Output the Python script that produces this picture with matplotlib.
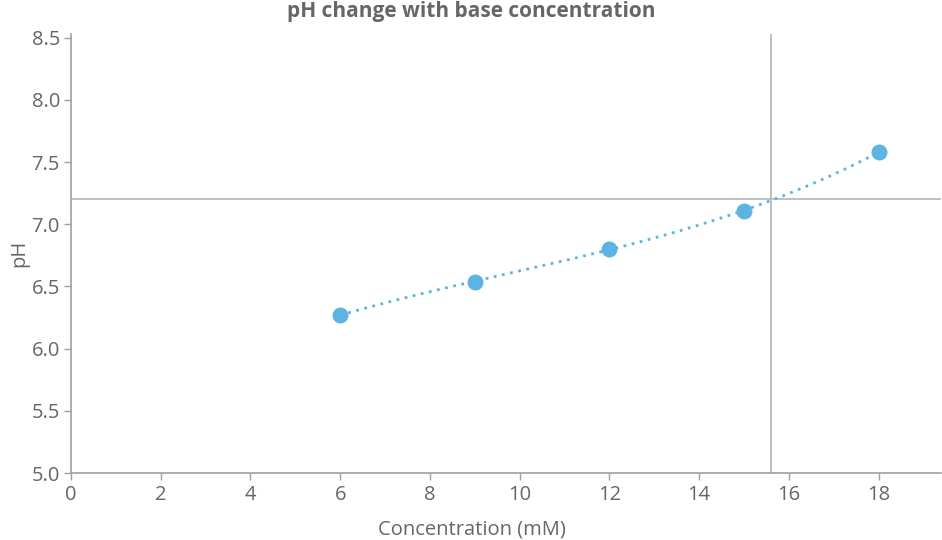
import numpy as np
import matplotlib
matplotlib.use("Agg")
import matplotlib.pyplot as plt

# data
conc = [6, 9, 12, 15, 18]
ph = [6.27, 6.54, 6.80, 7.11, 7.58]
target_ph = 7.2
target_conc = 15.6

x_ticks = [0, 2, 4, 6, 8, 10, 12, 14, 16, 18]
y_ticks = [5.0, 5.5, 6.0, 6.5, 7.0, 7.5, 8.0, 8.5]

BLUE = "#5cb4e3"
GREY = "#666666"
AXIS = "#a0a0a0"

plt.rcParams["font.family"] = ["Open Sans", "DejaVu Sans"]

fig = plt.figure(figsize=(9.42, 5.4), dpi=100)
ax = fig.add_axes([0.0754, 0.124, 0.924, 0.813])

# trend line fitted to the points
coef = np.polyfit(conc, ph, 3)
xs = np.linspace(conc[0], conc[-1], 200)
ax.plot(xs, np.polyval(coef, xs), color=BLUE, lw=2.0, ls=(0, (1, 2)), zorder=2)
ax.plot(conc, ph, "o", color=BLUE, ms=11.5, mec="none", zorder=3)

ax.axhline(target_ph, color="#b4b4b4", lw=1.2, zorder=1)
ax.axvline(target_conc, color="#b4b4b4", lw=1.2, zorder=1)

ax.set_xlim(0, 19.4)
ax.set_ylim(5.0, 8.53)
ax.set_xticks(x_ticks)
ax.set_yticks(y_ticks)
ax.set_yticklabels([f"{v:.1f}" for v in y_ticks])

for s in ("top", "right"):
    ax.spines[s].set_visible(False)
for s in ("left", "bottom"):
    ax.spines[s].set_color(AXIS)
    ax.spines[s].set_linewidth(1.2)
ax.tick_params(colors=AXIS, labelcolor=GREY, labelsize=14.5, length=5, width=1)
ax.tick_params(axis="y", pad=3)

ax.set_xlabel("Concentration (mM)", fontsize=14.5, color=GREY)
ax.xaxis.set_label_coords(0.461, -0.105)
ax.set_ylabel("pH", fontsize=14.5, color=GREY, labelpad=2)
fig.suptitle("pH change with base concentration", fontsize=15, fontweight="bold",
             color=GREY, x=0.5, y=0.998)

fig.savefig("out.png", dpi=100)
